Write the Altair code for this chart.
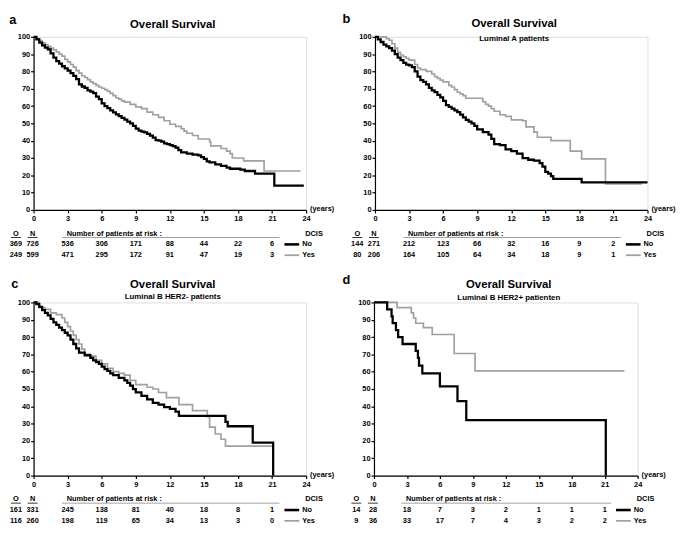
import altair as alt
import pandas as pd

FONT = "Liberation Sans"
BLACK = "#000000"
GRAY = "#a0a0a0"

# ---------------- data ----------------
RISK_YEARS = [3, 6, 9, 12, 15, 18, 21]

# Panel a
a_no_t = [0, 0.25, 0.5, 0.75, 1, 1.25, 1.5, 1.75, 2, 2.25, 2.5, 2.75, 3, 3.25, 3.5, 3.75, 4, 4.25, 4.5, 4.75,
          5, 5.25, 5.5, 5.75, 6, 6.25, 6.5, 6.75, 7, 7.25, 7.5, 7.75, 8, 8.25, 8.5, 8.75, 9, 9.25, 9.5, 9.75,
          10, 10.25, 10.5, 10.75, 11, 11.25, 11.5, 11.75, 12, 12.25, 12.5, 12.75, 13, 13.5, 14, 14.5, 14.75,
          15, 15.25, 15.5, 16, 16.5, 17, 17.3, 18.2, 18.6, 19.5, 21.2, 23.8]
a_no_s = [100, 98.5, 96.6, 95, 93.8, 92.7, 90.5, 88, 86, 84.5, 83, 81.8, 80.5, 79, 77.5, 75.5, 72.5, 71.3, 70.5,
          69, 68.3, 67.5, 65.5, 64, 61.5, 60, 58.8, 57.5, 56.3, 55.2, 54.2, 53.2, 52.2, 51, 50, 48.5, 47, 45.8,
          45.3, 44.8, 44, 43, 41.8, 40.3, 40, 39.5, 38.5, 38, 37.5, 36.8, 36, 34.5, 33.3, 32.5, 32, 31.5, 30.5,
          29.5, 28, 27.5, 26.3, 25.5, 24.5, 23.8, 23.3, 22.5, 21, 14, 14]
a_yes_t = [0, 0.25, 0.5, 0.75, 1, 1.25, 1.5, 1.75, 2, 2.25, 2.5, 2.75, 3, 3.25, 3.5, 3.75, 4, 4.25, 4.5, 4.75,
           5, 5.25, 5.5, 5.75, 6, 6.25, 6.5, 6.75, 7, 7.25, 7.5, 7.75, 8, 8.5, 9, 9.5, 10, 10.5, 11, 11.5, 12,
           12.5, 13, 13.25, 13.5, 14, 14.5, 15.5, 15.6, 16.5, 17, 17.3, 17.5, 18.5, 20.3, 23.5]
a_yes_s = [100, 99, 97.8, 96.5, 95.5, 94.5, 93.5, 92.5, 91.3, 90, 88.8, 87, 85.5, 84, 82.5, 80.5, 79, 77.5,
           76.5, 75.3, 74, 73, 72, 71, 70.3, 69.5, 68.5, 67.3, 66, 64.8, 64, 63, 62.3, 61, 59.5, 58.5, 56.5, 55,
           53.5, 51.5, 49.5, 48.3, 47, 45.5, 44.3, 43, 41, 39.5, 37, 35.5, 34, 32.5, 30, 28.3, 22.5, 22.5]
a_O = [369, 249]
a_N = [726, 599]
a_risk_no = [536, 306, 171, 88, 44, 22, 6]
a_risk_yes = [471, 295, 172, 91, 47, 19, 3]

# Panel b
b_no_t = [0, 0.25, 0.5, 0.75, 1, 1.25, 1.5, 1.75, 2, 2.25, 2.5, 2.75, 3, 3.25, 3.5, 3.75, 4, 4.25, 4.5, 4.75,
          5, 5.25, 5.5, 5.75, 6, 6.25, 6.5, 6.75, 7, 7.25, 7.5, 7.75, 8, 8.25, 8.5, 8.75, 9, 9.5, 10, 10.25,
          10.5, 11, 11.5, 12, 12.5, 13, 13.5, 14, 14.5, 14.75, 15, 15.25, 15.5, 15.7, 18.2, 24]
b_no_s = [100, 98.5, 97, 95.5, 94.5, 93.5, 92, 90, 88, 86.5, 85, 84, 83.5, 82.5, 80, 77, 75, 74, 72.5, 70.5,
          69, 68, 66.5, 65, 63, 60.5, 59.5, 58.5, 57.5, 56.5, 55, 53.5, 52, 51, 50, 48.5, 46.5, 45, 43.5, 41,
          38, 37.5, 35, 34, 32.5, 30, 29, 28.5, 27, 25, 22, 21, 19.5, 18, 16, 16]
b_yes_t = [0, 1, 1.25, 1.5, 1.75, 2, 2.25, 2.5, 2.75, 3, 3.5, 3.75, 4, 4.5, 5, 5.25, 5.5, 5.75, 6, 6.5, 6.75,
           7, 7.25, 7.5, 7.75, 8, 9.5, 9.75, 10, 10.25, 10.5, 11, 11.5, 12, 13, 13.3, 14, 14.3, 15.5, 17.2,
           18.2, 20.3, 23.5]
b_yes_s = [100, 99, 98, 96, 93.5, 91, 89.5, 88.5, 87.5, 86.5, 84, 82, 81, 80, 78.5, 77, 76, 75, 74, 72, 71,
           69.5, 68, 67, 66, 64.5, 62.5, 61, 60, 58.5, 57, 55, 54, 52, 51.5, 48, 45, 42, 40, 34, 29.5, 15, 15]
b_O = [144, 80]
b_N = [271, 206]
b_risk_no = [212, 123, 66, 32, 16, 9, 2]
b_risk_yes = [164, 105, 64, 34, 18, 9, 1]

# Panel c
c_no_t = [0, 0.25, 0.5, 0.75, 1, 1.25, 1.5, 1.75, 2, 2.25, 2.5, 2.75, 3, 3.25, 3.5, 3.75, 4, 4.5, 5, 5.25,
          5.5, 5.75, 6, 6.25, 6.5, 6.75, 7, 7.5, 8, 8.25, 8.5, 8.75, 9, 9.5, 10, 10.5, 11, 11.5, 12, 12.5,
          12.8, 16.9, 17.1, 19.3, 21.1]
c_no_s = [100, 99, 97.5, 95.5, 94, 92.5, 90.5, 88.5, 87, 85.5, 84, 82.5, 81, 78.5, 76, 73.5, 71, 69.5, 68,
          66.5, 65.5, 64.5, 63, 61.5, 60.5, 59, 58, 56.5, 55, 53.5, 52, 50, 48, 46, 44, 42, 41, 39.5, 38.5, 37,
          34.5, 31, 28.5, 19, 0]
c_yes_t = [0, 0.5, 1, 1.5, 2, 2.5, 2.75, 3, 3.25, 3.5, 3.75, 4, 4.25, 4.5, 5, 5.5, 6, 6.5, 7, 7.5, 8, 8.5, 9,
           10, 10.5, 11, 11.7, 12.8, 14, 15.3, 15.5, 16, 16.5, 16.9, 21.1]
c_yes_s = [100, 97, 96, 94, 93, 91, 88.5, 86, 83.5, 81, 78.5, 76, 73, 70, 69, 66.5, 64.5, 62, 60, 59, 58, 55,
           52.5, 51, 50, 48, 45, 41, 37.5, 34, 28, 24, 21, 17, 17]
c_O = [161, 116]
c_N = [331, 260]
c_risk_no = [245, 138, 81, 40, 18, 8, 1]
c_risk_yes = [198, 119, 65, 34, 13, 3, 0]

# Panel d
d_no_t = [0, 1.2, 1.6, 1.7, 2.0, 2.2, 2.6, 3.8, 4.0, 4.1, 4.4, 6.0, 7.6, 8.4, 21.1]
d_no_s = [100, 96, 92, 88, 84, 80, 76, 72, 68, 63.5, 59, 51.5, 43, 32, 0]
d_yes_t = [0, 2.1, 3.4, 3.6, 3.8, 4.5, 5.3, 7.3, 9.2, 22.8]
d_yes_s = [100, 97, 94, 91, 88, 85.5, 81.5, 70.5, 60.5, 60.5]
d_O = [14, 9]
d_N = [28, 36]
d_risk_no = [18, 7, 3, 2, 1, 1, 1]
d_risk_yes = [33, 17, 7, 4, 3, 2, 2]

TITLE = "Overall Survival"
SUBTITLES = ["", "Luminal A patients", "Luminal B HER2- patients", "Luminal B HER2+ patienten"]
LETTERS = ["a", "b", "c", "d"]

# ---------------- chart ----------------
W = 277
H = 176
FS = 7.5

x_axis = alt.Axis(values=list(range(0, 25, 3)), title=None, labelFontSize=FS, labelFontWeight="bold",
                  labelFont=FONT, labelColor="black", tickSize=3, labelPadding=2, domainColor="black",
                  domainWidth=1.2, tickWidth=1.2, tickColor="black", grid=False, labelFlush=False)
y_axis = alt.Axis(values=list(range(0, 101, 10)), title=None, labelFontSize=FS, labelFontWeight="bold",
                  labelFont=FONT, labelColor="black", tickSize=3, labelPadding=1, domainColor="black",
                  domainWidth=1.2, tickWidth=1.2, tickColor="black", grid=False, labelFlush=False)


def txt(text, x, y, size=FS, weight="bold", align="center", baseline="middle"):
    return alt.Chart(pd.DataFrame({"txt": [text]})).mark_text(
        fontSize=size, fontWeight=weight, align=align, baseline=baseline, font=FONT, color="black"
    ).encode(text="txt:N", x=alt.value(x), y=alt.value(y))


def hline(x1, x2, y, color, sw):
    return alt.Chart(pd.DataFrame({"k": [0]})).mark_rule(color=color, strokeWidth=sw).encode(
        x=alt.value(x1), x2=alt.value(x2), y=alt.value(y))


def panel(letter, lpos, title_y, subtitle, sub_y, no_t, no_s, yes_t, yes_s, O, N, r_no, r_yes, w, h):
    xs = alt.Scale(domain=[0, 24], nice=False)
    ys = alt.Scale(domain=[0, 100], nice=False)
    X = alt.X("t:Q", scale=xs, axis=x_axis)

    def curve(times, surv, color, sw):
        df = pd.DataFrame({"t": times, "s": surv})
        return alt.Chart(df).mark_line(interpolate="step-after", color=color, strokeWidth=sw).encode(
            x=X, y=alt.Y("s:Q", scale=ys, axis=y_axis))

    def risk_row(vals, y):
        df = pd.DataFrame({"t": RISK_YEARS, "n": vals})
        return alt.Chart(df).mark_text(fontSize=FS, fontWeight="bold", font=FONT, color="black",
                                       baseline="middle").encode(
            x=X, y=alt.value(y), text=alt.Text("n:Q", format="d"))

    hy = h + 24
    uy = h + 28
    r1 = h + 35
    r2 = h + 46
    layers = [
        curve(yes_t, yes_s, GRAY, 1.7),
        curve(no_t, no_s, BLACK, 2.3),
        txt(letter, lpos[0], lpos[1], size=13),
        txt(TITLE, w / 2 + 3, title_y, size=11.5),
        txt("(years)", w + 4, h - 1, align="left"),
    ]
    if subtitle:
        layers.append(txt(subtitle, w / 2 + 3, sub_y, size=8))
    layers += [
        txt("O", -18, hy), txt("N", -1, hy),
        txt("Number of patients at risk :", w * 3 / 24 - 1, hy, align="left"),
        txt("DCIS", w + 17, hy, align="right"),
        hline(-23, -13, uy, BLACK, 0.8), hline(-6, 4, uy, BLACK, 0.8),
        hline(w * 2.5 / 24, w - 27, uy, GRAY, 1),
        txt(str(O[0]), -18, r1), txt(str(N[0]), -1, r1),
        txt(str(O[1]), -18, r2), txt(str(N[1]), -1, r2),
        risk_row(r_no, r1), risk_row(r_yes, r2),
        hline(w - 22, w - 7, r1, BLACK, 2.6), hline(w - 22, w - 7, r2, GRAY, 1.8),
        txt("No", w - 4, r1, align="left"), txt("Yes", w - 4, r2, align="left"),
    ]
    return alt.layer(*layers).properties(width=w, height=h)


pa = panel(LETTERS[0], (-21, -17), -12, SUBTITLES[0], 0, a_no_t, a_no_s, a_yes_t, a_yes_s, a_O, a_N,
           a_risk_no, a_risk_yes, W, H)
pb = panel(LETTERS[1], (-29, -18), -13, SUBTITLES[1], 2, b_no_t, b_no_s, b_yes_t, b_yes_s, b_O, b_N,
           b_risk_no, b_risk_yes, W, H)
pc = panel(LETTERS[2], (-19, -19), -18, SUBTITLES[2], -5, c_no_t, c_no_s, c_yes_t, c_yes_s, c_O, c_N,
           c_risk_no, c_risk_yes, W, H)
pd_ = panel(LETTERS[3], (-28, -23), -18, SUBTITLES[3], -4, d_no_t, d_no_s, d_yes_t, d_yes_s, d_O, d_N,
            d_risk_no, d_risk_yes, W - 9, H)

chart = alt.vconcat(
    alt.hconcat(pa, pb, spacing=6),
    alt.hconcat(pc, pd_, spacing=6),
    spacing=14,
).properties(padding=0).configure_view(stroke=None).configure(background="white")

chart.save("out.html", embed_options={"renderer": "svg", "actions": False})
